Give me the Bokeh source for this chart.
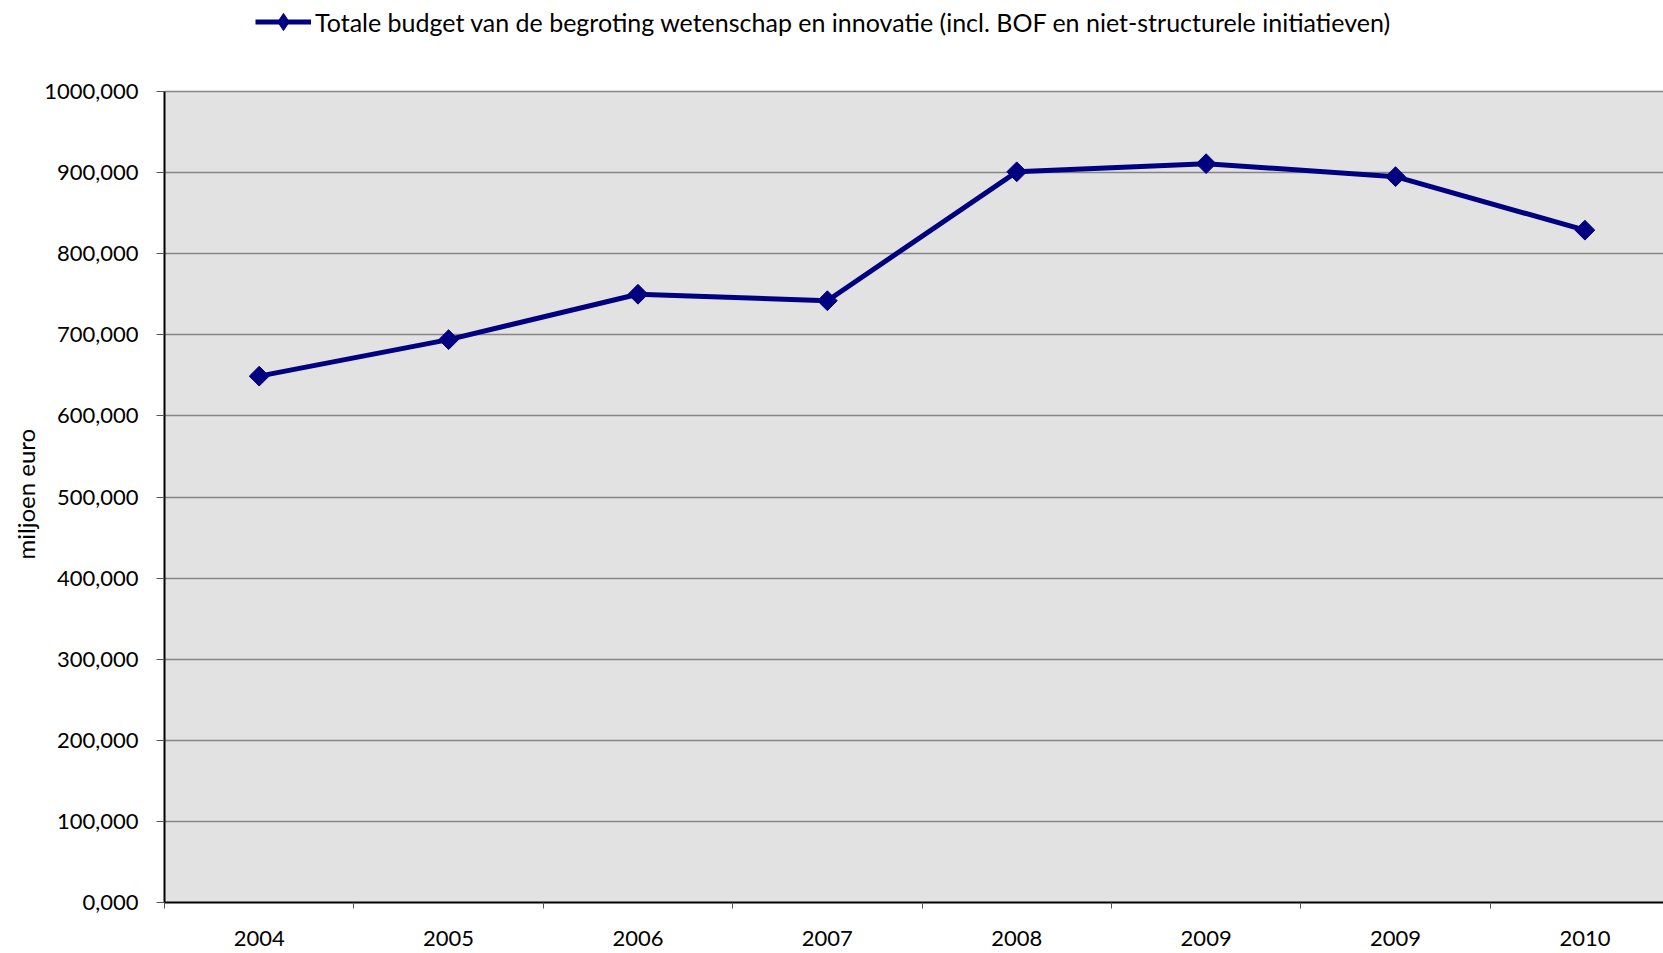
from bokeh.plotting import figure
from bokeh.models import (Range1d, FixedTicker, CustomJSTickFormatter,
                          Legend, LegendItem, BoxAnnotation, Title)
from bokeh.embed import file_html
from bokeh.resources import INLINE

years = ["2004", "2005", "2006", "2007", "2008", "2009", "2009", "2010"]
budget = [649, 694, 750, 742, 901, 911, 895, 829]
y_ticks = [0, 100, 200, 300, 400, 500, 600, 700, 800, 900, 1000]
series_name = "Totale budget van de begroting wetenschap en innovatie (incl. BOF en niet-structurele initiatieven)"
y_title = "miljoen euro"

FONT = "Lato"
NAVY = "#000080"
xs = [i + 0.5 for i in range(len(years))]
y_max = y_ticks[-1]

FRAME_H = 902          # frame runs from page top to the x axis
PLOT_H = 811           # height of the 0..1000 value area
y_top = y_max * FRAME_H / PLOT_H

p = figure(width=1663, height=953, output_backend="svg", toolbar_location=None,
           x_range=Range1d(0, 7.915), y_range=Range1d(0, y_top),
           min_border_left=164, min_border_right=0, min_border_top=0, min_border_bottom=51)

p.border_fill_color = "white"
p.outline_line_color = None
p.background_fill_color = "white"

# grey plot area for the value range only
p.add_layout(BoxAnnotation(top=y_max, fill_color="#E2E2E2", fill_alpha=1.0,
                           line_color=None, level="image"))

line = p.line(xs, budget, line_color=NAVY, line_width=5)
pts = p.scatter(xs, budget, marker="square", angle=0.785398, size=14,
                fill_color=NAVY, line_color=NAVY)
# legend-only marker sample (nothing drawn in the plot)
legend_marker = p.scatter(x=[float("nan")], y=[float("nan")], marker="diamond",
                          fill_color=NAVY, line_color=NAVY)

# x axis
xa = p.xaxis[0]
xa.ticker = FixedTicker(ticks=xs, minor_ticks=list(range(len(years) + 1)))
xa.formatter = CustomJSTickFormatter(args=dict(labels=years),
                                     code="return labels[Math.floor(tick)];")
xa.major_tick_out = 0
xa.major_tick_in = 0
xa.minor_tick_out = 6
xa.minor_tick_in = 0
xa.minor_tick_line_color = "#555555"
xa.axis_line_color = "black"
xa.axis_line_width = 2
xa.major_label_text_font = FONT
xa.major_label_text_font_size = "22px"
xa.major_label_text_color = "black"
xa.major_label_standoff = 22

# y axis
ya = p.yaxis[0]
ya.bounds = (0, y_max)
ya.ticker = FixedTicker(ticks=y_ticks, minor_ticks=[])
ya.formatter = CustomJSTickFormatter(code="return tick.toFixed(3).replace('.', ',');")
ya.major_tick_out = 8
ya.major_tick_in = 0
ya.minor_tick_out = 0
ya.minor_tick_in = 0
ya.major_tick_line_color = "#555555"
ya.axis_line_color = "black"
ya.axis_line_width = 2
ya.major_label_text_font = FONT
ya.major_label_text_font_size = "22px"
ya.major_label_text_color = "black"
ya.major_label_standoff = 18

# y axis title, centred on the value range (not on the whole frame)
p.add_layout(Title(text=y_title, align="left", offset=343, standoff=4,
                   text_font=FONT, text_font_size="24px", text_font_style="normal",
                   text_color="black"), "left")

p.xgrid.grid_line_color = None
p.ygrid.grid_line_color = "#858585"
p.ygrid.grid_line_width = 1.3

legend = Legend(items=[LegendItem(label=series_name, renderers=[line, legend_marker])],
                location=(91, FRAME_H - 43), orientation="horizontal",
                padding=0, margin=0, spacing=0,
                border_line_color=None, background_fill_alpha=0,
                glyph_width=56, glyph_height=43, label_standoff=4,
                label_text_font=FONT, label_text_font_size="25px",
                label_text_color="black", label_height=20)
p.add_layout(legend)

open("out.html", "w").write(file_html(p, INLINE))
